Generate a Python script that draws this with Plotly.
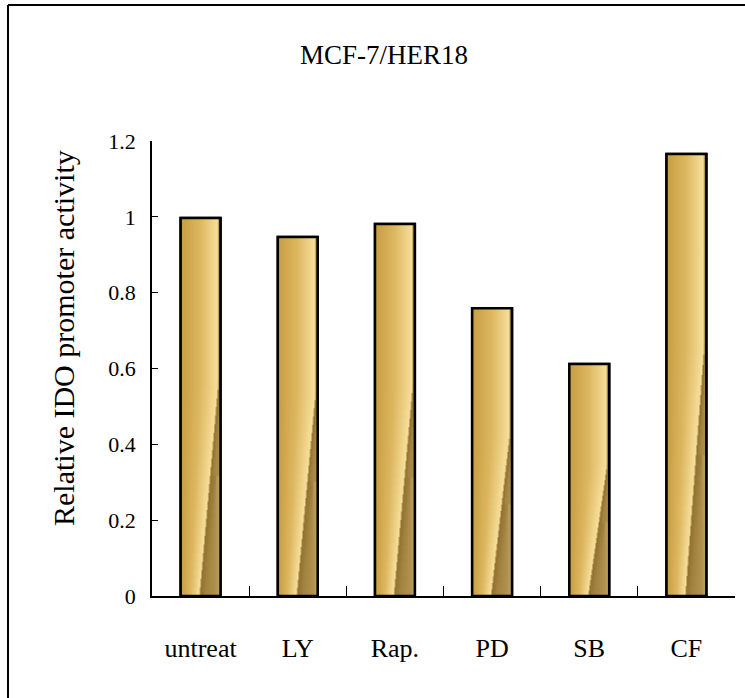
import plotly.graph_objects as go

categories = ["untreat", "LY", "Rap.", "PD", "SB", "CF"]
values = [0.997, 0.947, 0.981, 0.759, 0.612, 1.166]
y_ticks = [0, 0.2, 0.4, 0.6, 0.8, 1, 1.2]
y_tick_labels = ["0", "0.2", "0.4", "0.6", "0.8", "1", "1.2"]
title_text = "MCF-7/HER18"
y_title = "Relative IDO promoter activity"

FONT = "Liberation Serif"
BAR_W = 0.41
N_BANDS = 44
STREAK_START = 0.56   # fraction of bar height where the dark streak appears
T_TOP, T_BOT = 0.97, 0.5


def band_scale(t):
    """Horizontal colorscale whose light->dark transition sits at fraction t."""
    stops = [[0, "#c69c41"], [t * 0.5, "#ddb760"], [t - 0.05, "#f6de99"], [t, "#927230"]]
    if t + 0.12 < 0.88:
        stops += [[t + 0.12, "#a2823f"], [0.9, "#b2924f"], [1, "#c4a868"]]
    elif t + 0.06 < 0.99:
        stops += [[t + 0.06, "#a2823f"], [1, "#b2924f"]]
    else:
        stops += [[1, "#a3813c"]]
    clean = []
    for s in stops:
        if not clean or s[0] > clean[-1][0]:
            clean.append(s)
    clean[-1][0] = 1
    return clean


fig = go.Figure()
# category bars (establish category axis; covered by gradient overlays)
fig.add_trace(go.Bar(x=categories, y=values, width=BAR_W,
                     marker=dict(color="#d9b25a", line=dict(color="black", width=2.5)),
                     showlegend=False, hoverinfo="skip"))

for i, v in enumerate(values):
    x0, x1 = i - BAR_W / 2, i + BAR_W / 2
    for k in range(N_BANDS):
        f0 = k / N_BANDS
        f1 = (k + 1) / N_BANDS
        fm = (f0 + f1) / 2
        if fm >= STREAK_START:
            t = T_TOP
        else:
            t = T_BOT + (T_TOP - T_BOT) * (fm / STREAK_START)
        yb0 = v * f0
        yb1 = min(v * f1 + v * 0.004, v)
        fig.add_trace(go.Scatter(
            x=[x0, x0, x1, x1, x0], y=[yb0, yb1, yb1, yb0, yb0],
            xaxis="x2", mode="lines", fill="toself",
            fillgradient=dict(type="horizontal", colorscale=band_scale(t)),
            line=dict(width=0), showlegend=False, hoverinfo="skip"))
    fig.add_trace(go.Scatter(
        x=[x0, x0, x1, x1, x0], y=[0, v, v, 0, 0], xaxis="x2", mode="lines",
        line=dict(color="black", width=2.5), showlegend=False, hoverinfo="skip"))

fig.update_layout(
    width=745, height=698,
    margin=dict(l=152, r=10, t=141, b=102),
    paper_bgcolor="white", plot_bgcolor="white",
    font=dict(family=FONT, color="black"),
    title=dict(text=title_text, x=384 / 745, xanchor="center", xref="container",
               y=1 - 55 / 698, yanchor="middle", font=dict(size=27, family=FONT)),
    xaxis=dict(type="category", range=[-0.5, 5.5], showline=True, linecolor="black",
               linewidth=1.5, ticks="inside", ticklen=10, tickcolor="black",
               tickwidth=1, tickson="boundaries", showgrid=False, zeroline=False,
               tickfont=dict(size=26, family=FONT), ticklabelstandoff=28),
    xaxis2=dict(overlaying="x", range=[-0.5, 5.5], visible=False),
    yaxis=dict(range=[0, 1.2], tickvals=y_ticks, ticktext=y_tick_labels,
               showline=True, linecolor="black", linewidth=1.5, ticks="inside",
               ticklen=6, tickcolor="black", tickwidth=1, showgrid=False,
               zeroline=False, tickfont=dict(size=22, family=FONT),
               ticklabelstandoff=10),
    annotations=[dict(text=y_title, xref="paper", yref="paper",
                      x=(63 - 152) / 583, y=(596 - 338) / 455, textangle=-90,
                      showarrow=False, xanchor="center", yanchor="middle",
                      font=dict(size=30, family=FONT))],
    shapes=[
        dict(type="line", xref="paper", yref="paper", x0=(8 - 152) / 583, x1=1.2,
             y0=(596 - 5) / 455, y1=(596 - 5) / 455, line=dict(color="black", width=2)),
        dict(type="line", xref="paper", yref="paper", x0=(8 - 152) / 583, x1=(8 - 152) / 583,
             y0=(596 - 5) / 455, y1=-0.5, line=dict(color="black", width=2)),
    ],
)

fig.write_html("out.html")
